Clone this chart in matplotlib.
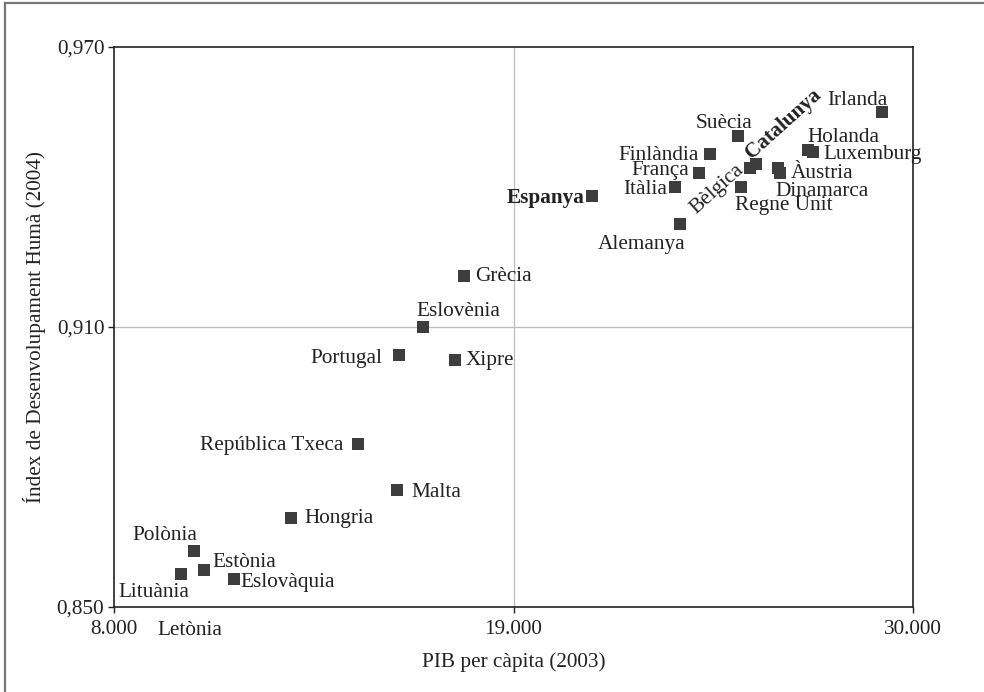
import matplotlib
matplotlib.use("Agg")
import matplotlib.pyplot as plt
from matplotlib.lines import Line2D
from matplotlib.ticker import FixedLocator

# ---- data ----
countries = ["Irlanda", "Suècia", "Holanda", "Luxemburg", "Finlàndia", "Catalunya",
             "Bèlgica", "França", "Àustria", "Dinamarca", "Itàlia", "Regne Unit",
             "Espanya", "Alemanya", "Grècia", "Eslovènia", "Portugal", "Xipre",
             "República Txeca", "Malta", "Hongria", "Polònia", "Estònia", "Lituània",
             "Eslovàquia", "Letònia"]
gdp = [29150, 25180, 27110, 27250, 24410, 25680,
       25510, 24110, 26280, 26340, 23450, 25260,
       21160, 23580, 17640, 16520, 15850, 17380,
       14720, 15790, 12870, 10200, 10480, 9850,
       11300, 10000]
hdi = [0.956, 0.951, 0.948, 0.9475, 0.947, 0.945,
       0.944, 0.943, 0.944, 0.943, 0.940, 0.940,
       0.938, 0.932, 0.921, 0.910, 0.904, 0.903,
       0.885, 0.875, 0.869, 0.862, 0.858, 0.857,
       0.856, 0.845]
x_ticks = [8000, 19000, 30000]
x_tick_labels = ["8.000", "19.000", "30.000"]
y_ticks = [0.850, 0.910, 0.970]
y_tick_labels = ["0,850", "0,910", "0,970"]
bold_labels = ["Espanya", "Catalunya"]

# label offsets (pixels, dx right, dy down) and rotation
label_offsets = {
    "Irlanda": (-25, -12), "Suècia": (-14, -12), "Holanda": (35, -12),
    "Luxemburg": (59, 2), "Finlàndia": (-51, 1), "Catalunya": (27, -40),
    "Bèlgica": (-33, 21), "França": (-39, -3), "Àustria": (44, 5),
    "Dinamarca": (42, 19), "Itàlia": (-30, 2), "Regne Unit": (43, 18.5),
    "Espanya": (-46, 2), "Alemanya": (-38, 20), "Grècia": (39, 1),
    "Eslovènia": (35, -16), "Portugal": (-53, 3), "Xipre": (35, 1),
    "República Txeca": (-86, 2), "Malta": (39, 2), "Hongria": (48, 0),
    "Polònia": (-29, -15), "Estònia": (40, -7), "Lituània": (-27, 18),
    "Eslovàquia": (54, 3), "Letònia": (3, 0),
}
rotations = {"Catalunya": 42, "Bèlgica": 42}

plt.rcParams['font.family'] = ['Liberation Serif', 'DejaVu Serif']
FS = 15.3
TXT = '#222222'

fig = plt.figure(figsize=(9.84, 6.92), dpi=100)
ax = fig.add_axes([114/984, 1-607/692, (913-114)/984, (607-47)/692])

ax.set_xlim(8000, 30000)
ax.set_ylim(0.850, 0.970)

ax.axvline(19000, color='#bdbdbd', lw=0.9, zorder=1)
ax.axhline(0.910, color='#bdbdbd', lw=0.9, zorder=1)

ax.plot(gdp, hdi, linestyle='none', marker='s', markersize=8.6,
        color='#3d3d3d', markeredgewidth=0, zorder=3)

px2pt = 0.72
for name, x, y in zip(countries, gdp, hdi):
    dx, dy = label_offsets[name]
    ax.annotate(name, (x, y), xytext=(dx*px2pt, -dy*px2pt), textcoords='offset points',
                ha='center', va='center', fontsize=FS, color=TXT,
                fontweight='bold' if name in bold_labels else 'normal',
                rotation=rotations.get(name, 0), rotation_mode='anchor',
                annotation_clip=False, zorder=4)

ax.xaxis.set_major_locator(FixedLocator(x_ticks))
ax.set_xticklabels(x_tick_labels)
ax.yaxis.set_major_locator(FixedLocator(y_ticks))
ax.set_yticklabels(y_tick_labels)
ax.tick_params(axis='both', direction='out', length=4, width=1.0, colors='#222222',
               labelsize=FS, labelcolor=TXT)
ax.tick_params(axis='x', pad=5)
ax.tick_params(axis='y', pad=3)

for s in ax.spines.values():
    s.set_linewidth(1.2)
    s.set_color('#222222')

ax.set_xlabel("PIB per càpita (2003)", fontsize=FS, color=TXT, va='center')
ax.set_ylabel("Índex de Desenvolupament Humà (2004)", fontsize=FS, color=TXT, va='center')
ax.xaxis.set_label_coords(0.5, (607-662)/560)
ax.yaxis.set_label_coords((35-114)/799, 0.5)

# outer frame (top and left visible)
fig.add_artist(Line2D([5/984, 1.0], [1-3/692, 1-3/692], color='#777777', lw=1.6,
                      transform=fig.transFigure))
fig.add_artist(Line2D([5/984, 5/984], [0.0, 1-3/692], color='#777777', lw=1.6,
                      transform=fig.transFigure))

fig.savefig("out.png", dpi=100)
